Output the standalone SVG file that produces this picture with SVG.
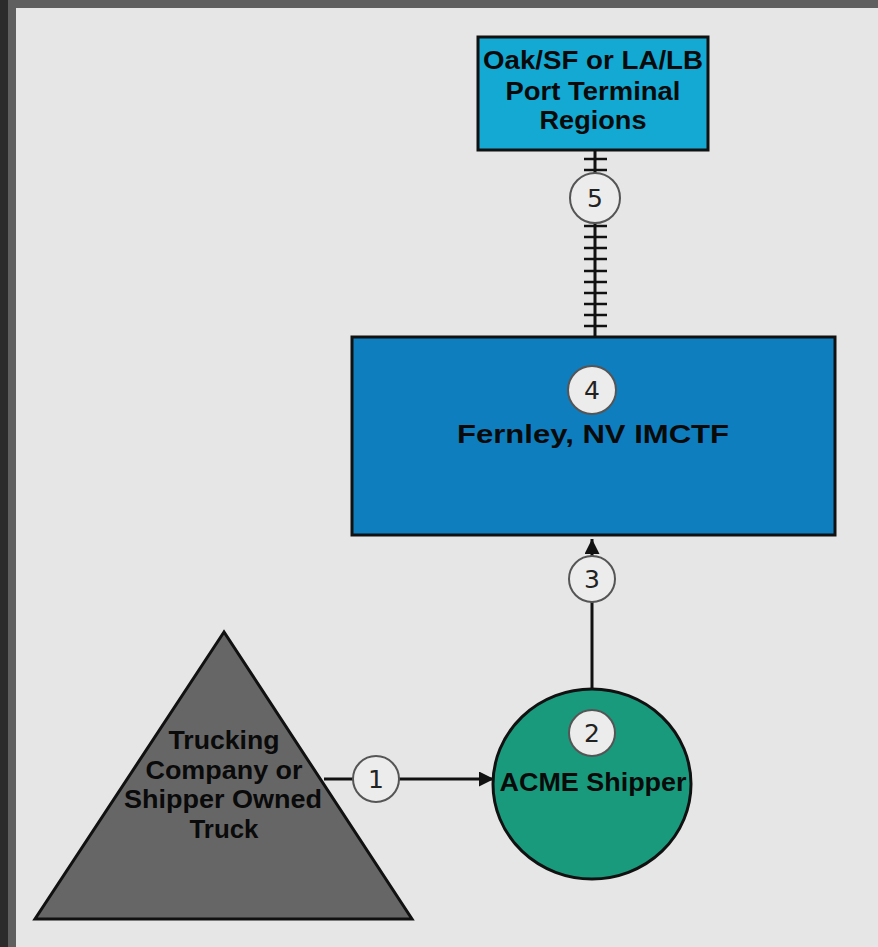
<svg xmlns="http://www.w3.org/2000/svg" width="878" height="947" viewBox="0 0 878 947">
<style>
.node{stroke:#111;stroke-width:3}
.lbl{font-family:"Liberation Sans",Arial,sans-serif;font-weight:bold;font-size:25px;fill:#0a0a0a;text-anchor:middle}
.badge circle{fill:#ececec;stroke:#555;stroke-width:2}
.badge text{font-family:"DejaVu Sans","Liberation Sans",sans-serif;font-size:25px;fill:#222;text-anchor:middle}
.conn{stroke:#111;stroke-width:3;fill:none}
.tie{stroke:#111;stroke-width:2.5}
</style>
<defs>
<marker id="arr" viewBox="0 0 10 10" refX="10" refY="5" markerWidth="5" markerHeight="5" orient="auto" markerUnits="strokeWidth">
<path d="M0,0 L10,5 L0,10 z" fill="#111"/>
</marker>
</defs>
<rect x="0" y="0" width="878" height="947" fill="#5f5f5f"/>
<rect x="0" y="0" width="8" height="947" fill="#2b2b2b"/>
<rect x="16" y="8" width="862" height="939" fill="#e6e6e6"/>

<g id="connectors">
<line class="conn" x1="595" y1="150" x2="595" y2="337"/>
<g class="tie">
<line x1="584" y1="159" x2="607" y2="159"/>
<line x1="584" y1="170" x2="607" y2="170"/>
<line x1="584" y1="226" x2="607" y2="226"/>
<line x1="584" y1="237" x2="607" y2="237"/>
<line x1="584" y1="248" x2="607" y2="248"/>
<line x1="584" y1="259" x2="607" y2="259"/>
<line x1="584" y1="271" x2="607" y2="271"/>
<line x1="584" y1="282" x2="607" y2="282"/>
<line x1="584" y1="293" x2="607" y2="293"/>
<line x1="584" y1="304" x2="607" y2="304"/>
<line x1="584" y1="315" x2="607" y2="315"/>
<line x1="584" y1="326" x2="607" y2="326"/>
</g>
<line class="conn" x1="592" y1="690" x2="592" y2="539" marker-end="url(#arr)"/>
<line class="conn" x1="324" y1="779" x2="494" y2="779" marker-end="url(#arr)"/>
<g class="badge"><circle cx="595" cy="198" r="25"/><text x="595" y="207">5</text></g>
<g class="badge"><circle cx="592" cy="579" r="23"/><text x="592" y="588">3</text></g>
<g class="badge"><circle cx="376" cy="779" r="23"/><text x="376" y="788">1</text></g>
</g>

<g id="port-terminal">
<rect class="node" x="478" y="37" width="230" height="113" fill="#13a9d3"/>
<text class="lbl" x="593" y="69" textLength="220" lengthAdjust="spacingAndGlyphs">Oak/SF or LA/LB</text>
<text class="lbl" x="593" y="100" textLength="175" lengthAdjust="spacingAndGlyphs">Port Terminal</text>
<text class="lbl" x="593" y="129" textLength="107" lengthAdjust="spacingAndGlyphs">Regions</text>
</g>

<g id="fernley">
<rect class="node" x="352" y="337" width="483" height="198" fill="#0e7ebf"/>
<g class="badge"><circle cx="592" cy="390" r="24"/><text x="592" y="399">4</text></g>
<text class="lbl" x="593" y="443" font-size="26" textLength="272" lengthAdjust="spacingAndGlyphs">Fernley, NV IMCTF</text>
</g>

<g id="acme">
<ellipse class="node" cx="592" cy="784" rx="99" ry="95" fill="#1a9a7d"/>
<g class="badge"><circle cx="592" cy="733" r="23"/><text x="592" y="742">2</text></g>
<text class="lbl" x="593" y="791" textLength="187" lengthAdjust="spacingAndGlyphs">ACME Shipper</text>
</g>

<g id="trucking">
<polygon class="node" points="224,632 35,919 412,919" fill="#666666"/>
<text class="lbl" x="224" y="749" textLength="111" lengthAdjust="spacingAndGlyphs">Trucking</text>
<text class="lbl" x="224" y="779" textLength="157" lengthAdjust="spacingAndGlyphs">Company or</text>
<text class="lbl" x="223" y="808" textLength="198" lengthAdjust="spacingAndGlyphs">Shipper Owned</text>
<text class="lbl" x="224" y="838" textLength="69" lengthAdjust="spacingAndGlyphs">Truck</text>
</g>
</svg>
